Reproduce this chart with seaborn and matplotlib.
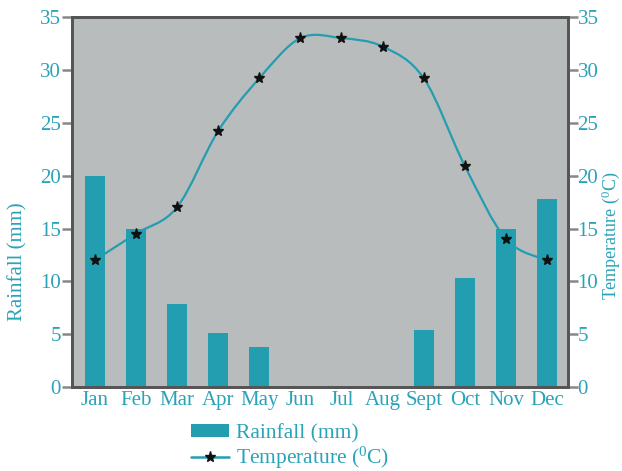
import matplotlib
matplotlib.use("Agg")
import matplotlib.pyplot as plt
import numpy as np
import pandas as pd
import seaborn as sns
from matplotlib.lines import Line2D
from matplotlib.patches import Patch, PathPatch
from matplotlib.path import Path

months = ["Jan", "Feb", "Mar", "Apr", "May", "Jun", "Jul", "Aug", "Sept", "Oct", "Nov", "Dec"]
rainfall = [20, 15, 7.9, 5.1, 3.8, 0, 0, 0, 5.4, 10.3, 15, 17.8]
temperature = [12, 14.5, 17, 24.2, 29.2, 33, 33, 32.2, 29.2, 20.9, 14, 12]

TEAL = "#239db0"
TEXT = "#2aa3b8"
BG = "#b9bcbd"
SPINE = "#555555"

sns.set_style("white")
plt.rcParams["font.family"] = ["Liberation Serif", "DejaVu Serif"]
plt.rcParams["mathtext.fontset"] = "stix"

df = pd.DataFrame({"Month": months, "Rainfall": rainfall, "Temperature": temperature})

fig = plt.figure(figsize=(6.22, 4.71), dpi=100)
ax = fig.add_axes([0.1158, 0.178, 0.797, 0.786])
ax.set_facecolor(BG)

sns.barplot(data=df, x="Month", y="Rainfall", color=TEAL, width=0.48,
            saturation=1, linewidth=0, ax=ax, zorder=2)

# smooth temperature curve (Catmull-Rom drawn as bezier segments)
x = np.arange(len(months), dtype=float)
y = np.array(temperature, dtype=float)
verts = [(x[0], y[0])]
codes = [Path.MOVETO]
for i in range(len(x) - 1):
    p0 = (x[max(i - 1, 0)], y[max(i - 1, 0)])
    p1 = (x[i], y[i])
    p2 = (x[i + 1], y[i + 1])
    p3 = (x[min(i + 2, len(x) - 1)], y[min(i + 2, len(x) - 1)])
    c1 = (p1[0] + (p2[0] - p0[0]) / 6, p1[1] + (p2[1] - p0[1]) / 6)
    c2 = (p2[0] - (p3[0] - p1[0]) / 6, p2[1] - (p3[1] - p1[1]) / 6)
    verts += [c1, c2, p2]
    codes += [Path.CURVE4] * 3
ax.add_patch(PathPatch(Path(verts, codes), fill=False, edgecolor=TEAL, lw=1.6, zorder=3))
ax.plot(x, y, linestyle="none", marker="*", color="#111111", markersize=8, zorder=4)

ax.set_xlim(-0.55, 11.5)
ax.set_ylim(0, 35)
ax.set_yticks(range(0, 36, 5))
ax.set_xticks(range(len(months)))
ax.set_xticklabels(months)
ax.set_xticks(np.arange(-0.5, 12, 1), minor=True)
ax.tick_params(axis="x", which="major", length=0, pad=3, labelsize=15, labelcolor=TEXT)
ax.tick_params(axis="x", which="minor", length=7, width=1.8, color="#888888", direction="out")
ax.tick_params(axis="y", length=7, width=1.8, color="#888888", labelsize=15, labelcolor=TEXT, pad=1)
ax.set_xlabel("")
ax.set_ylabel("Rainfall (mm)", fontsize=15, color=TEXT)
ax.yaxis.set_label_coords(-0.09, 0.34)

for s in ax.spines.values():
    s.set_color(SPINE)
    s.set_linewidth(2)
    s.set_visible(True)

ax2 = ax.twinx()
ax2.set_ylim(0, 35)
ax2.set_yticks(range(0, 36, 5))
ax2.tick_params(axis="y", length=7, width=1.8, color="#888888", labelsize=15, labelcolor=TEXT, pad=0)
ax2.set_ylabel("Temperature ($\\mathregular{^0}$C)", fontsize=13, color=TEXT)
ax2.yaxis.set_label_coords(1.064, 0.41)
for s in ax2.spines.values():
    s.set_color(SPINE)
    s.set_linewidth(2)

handles = [
    Patch(facecolor=TEAL, edgecolor="none"),
    Line2D([0], [0], color=TEAL, lw=1.8, marker="*", markersize=8,
           markerfacecolor="#111111", markeredgecolor="#111111"),
]
labels = ["Rainfall (mm)", "Temperature ($\\mathregular{^0}$C)"]
fig.legend(handles, labels, loc="center", bbox_to_anchor=(0.466, 0.050), ncol=1,
           frameon=False, fontsize=15.5, labelcolor=TEXT, handlelength=1.8,
           handleheight=0.55, handletextpad=0.3, labelspacing=0.1, borderpad=0)

fig.savefig("out.png", dpi=100)
